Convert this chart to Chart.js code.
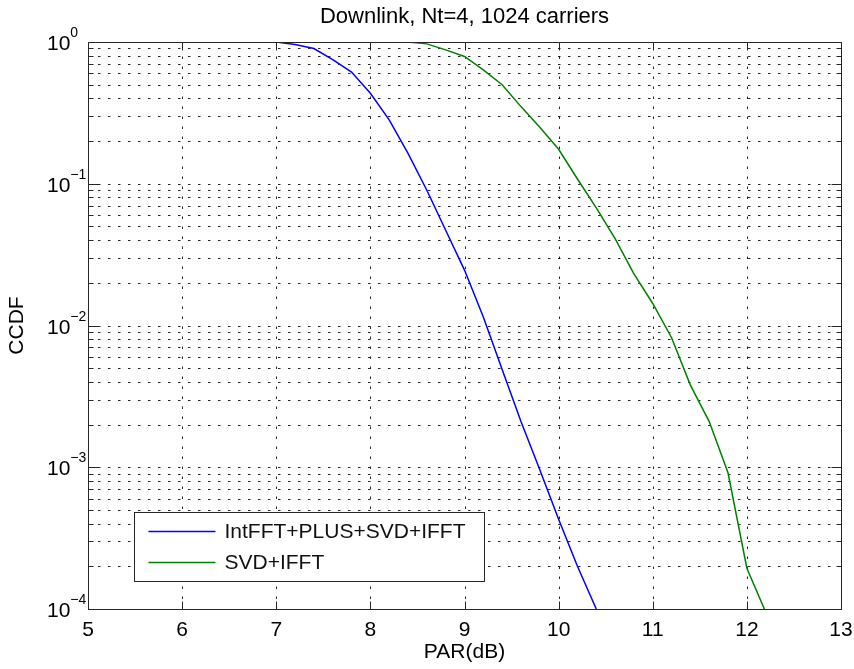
<!DOCTYPE html>
<html><head><meta charset="utf-8">
<script src="https://cdn.jsdelivr.net/npm/chart.js@4"></script>
<style>html,body{margin:0;padding:0;background:#fff}#wrap{width:854px;height:669px;position:relative}</style>
</head><body><div id="wrap"><canvas id="c"></canvas></div>
<script>
const titleText = 'Downlink, Nt=4, 1024 carriers';
const xLabel = 'PAR(dB)';
const yLabel = 'CCDF';
const seriesNames = ['IntFFT+PLUS+SVD+IFFT', 'SVD+IFFT'];
const parDb = [5.0,5.2,5.4,5.6,5.8,6.0,6.2,6.4,6.6,6.8,7.0,7.2,7.4,7.6,7.8,8.0,8.2,8.4,8.6,8.8,9.0,9.2,9.4,9.6,9.8,10.0,10.2,10.4,10.6,10.8,11.0,11.2,11.4,11.6,11.8,12.0,12.2];
const ccdfIntFFT = [1,1,1,1,1,1,1,1,1,1,1,0.96,0.90,0.75,0.614,0.435,0.282,0.164,0.090,0.047,0.0246,0.0115,0.0049,0.0021,0.00096,0.00043,0.0002,0.0001,null,null,null,null,null,null,null,null,null];
const ccdfSVD = [1,1,1,1,1,1,1,1,1,1,1,1,1,1,1,1,1,1,0.97,0.88,0.79,0.635,0.50,0.35,0.25,0.175,0.108,0.0675,0.041,0.0231,0.0143,0.0082,0.0038,0.0021,0.00091,0.000194,0.000095];
const xTicks = [5,6,7,8,9,10,11,12,13];
const yTickExponents = [0,-1,-2,-3,-4];
const seriesColors = ['rgb(0,0,255)', 'rgb(0,128,0)'];

const FONT = '"Liberation Sans", Arial, Helvetica, sans-serif';

const matlabPlugin = {
  id: 'matlab',
  beforeDatasetsDraw(chart) {
    const {ctx, chartArea: a, scales: {x: xs, y: ys}} = chart;
    ctx.save();
    ctx.strokeStyle = 'rgba(0,0,0,0.85)';
    ctx.lineWidth = 1;
    ctx.setLineDash([2.5, 7.5]);
    xTicks.forEach(v => {
      if (v <= xs.min || v >= xs.max) return;
      const px = Math.round(xs.getPixelForValue(v)) + 0.5;
      ctx.beginPath(); ctx.moveTo(px, a.bottom); ctx.lineTo(px, a.top); ctx.stroke();
    });
    yTickExponents.forEach(e => {
      for (let m = 1; m <= 9; m++) {
        const v = m * Math.pow(10, e);
        if (v <= ys.min * 1.0001 || v >= ys.max * 0.9999) continue;
        const py = Math.round(ys.getPixelForValue(v)) + 0.5;
        ctx.beginPath(); ctx.moveTo(a.left, py); ctx.lineTo(a.right, py); ctx.stroke();
      }
    });
    ctx.restore();
  },
  afterDatasetsDraw(chart) {
    const {ctx, chartArea: a, scales: {x: xs, y: ys}} = chart;
    ctx.save();
    ctx.strokeStyle = '#262626';
    ctx.lineWidth = 1;
    ctx.setLineDash([]);
    const L = Math.round(a.left) + 0.5, R = Math.round(a.right) + 0.5;
    const T = Math.round(a.top) + 0.5, B = Math.round(a.bottom) + 0.5;
    ctx.strokeRect(L, T, R - L, B - T);
    xTicks.forEach(v => {
      const px = Math.round(xs.getPixelForValue(v)) + 0.5;
      ctx.beginPath();
      ctx.moveTo(px, B); ctx.lineTo(px, B - 8);
      ctx.moveTo(px, T); ctx.lineTo(px, T + 8);
      ctx.stroke();
    });
    yTickExponents.forEach(e => {
      for (let m = 1; m <= 9; m++) {
        const v = m * Math.pow(10, e);
        if (v < ys.min * 0.9999 || v > ys.max * 1.0001) continue;
        const py = Math.round(ys.getPixelForValue(v)) + 0.5;
        const len = m === 1 ? 10 : 5;
        ctx.beginPath();
        ctx.moveTo(L, py); ctx.lineTo(L + len, py);
        ctx.moveTo(R, py); ctx.lineTo(R - len, py);
        ctx.stroke();
      }
    });
    ctx.fillStyle = '#000';
    ctx.textAlign = 'left';
    ctx.textBaseline = 'alphabetic';
    yTickExponents.forEach(e => {
      const py = ys.getPixelForValue(Math.pow(10, e));
      ctx.font = '21px ' + FONT;
      const baseX = 47;
      ctx.fillText('10', baseX, py + 8);
      const w = ctx.measureText('10').width;
      ctx.font = '14px ' + FONT;
      ctx.fillText(e === 0 ? '0' : '\u2212' + (-e), baseX + w, py - 5);
    });
    const bx = Math.round(a.left + 46) + 0.5, by = Math.round(a.bottom - 97) + 0.5;
    const bw = 350, bh = 69;
    ctx.fillStyle = '#fff';
    ctx.fillRect(bx, by, bw, bh);
    ctx.strokeStyle = '#262626';
    ctx.strokeRect(bx, by, bw, bh);
    ctx.font = '21px ' + FONT;
    ctx.textBaseline = 'middle';
    chart.data.datasets.forEach((ds, i) => {
      const ly = by + 19 + i * 31;
      ctx.strokeStyle = ds.borderColor;
      ctx.lineWidth = 1.5;
      ctx.beginPath(); ctx.moveTo(bx + 14, ly); ctx.lineTo(bx + 81, ly); ctx.stroke();
      ctx.fillStyle = '#111';
      ctx.fillText(ds.label, bx + 90, ly + 1);
    });
    ctx.restore();
  }
};

new Chart(document.getElementById('c'), {
  type: 'line',
  data: {
    datasets: [
      { label: seriesNames[0], data: parDb.map((p, i) => ({x: p, y: ccdfIntFFT[i]})), borderColor: seriesColors[0], borderWidth: 1.5, pointRadius: 0, tension: 0, fill: false },
      { label: seriesNames[1], data: parDb.map((p, i) => ({x: p, y: ccdfSVD[i]})), borderColor: seriesColors[1], borderWidth: 1.5, pointRadius: 0, tension: 0, fill: false }
    ]
  },
  options: {
    responsive: true,
    maintainAspectRatio: false,
    animation: false,
    devicePixelRatio: 1,
    layout: { padding: { left: 0, right: 13, top: 0, bottom: 0 } },
    plugins: {
      legend: { display: false },
      tooltip: { enabled: false },
      title: { display: true, text: titleText, color: '#000', fullSize: false,
        font: { family: FONT, size: 22, weight: 'normal', lineHeight: 1.2 },
        padding: { top: 4, bottom: 11.6 } }
    },
    scales: {
      x: {
        type: 'linear', min: 5, max: 13,
        grid: { display: false, drawTicks: false },
        border: { display: false },
        ticks: { stepSize: 1, color: '#000', padding: 8.4, autoSkip: false, maxRotation: 0,
          font: { family: FONT, size: 21 } },
        title: { display: true, text: xLabel, color: '#000', padding: { top: 0, bottom: 4.4 },
          font: { family: FONT, size: 21, lineHeight: 1.2 } },
        afterFit(scale) { scale.height = 60; scale.paddingLeft = 0; scale.paddingRight = 0; }
      },
      y: {
        type: 'logarithmic', min: 1e-4, max: 1,
        grid: { display: false, drawTicks: false },
        border: { display: false },
        ticks: { display: false },
        title: { display: true, text: yLabel, color: '#000', padding: { top: 4.4, bottom: 0 },
          font: { family: FONT, size: 21, lineHeight: 1.2 } },
        afterFit(scale) { scale.width = 88; scale.paddingTop = 0; scale.paddingBottom = 0; }
      }
    }
  },
  plugins: [matlabPlugin]
});
</script></body></html>
